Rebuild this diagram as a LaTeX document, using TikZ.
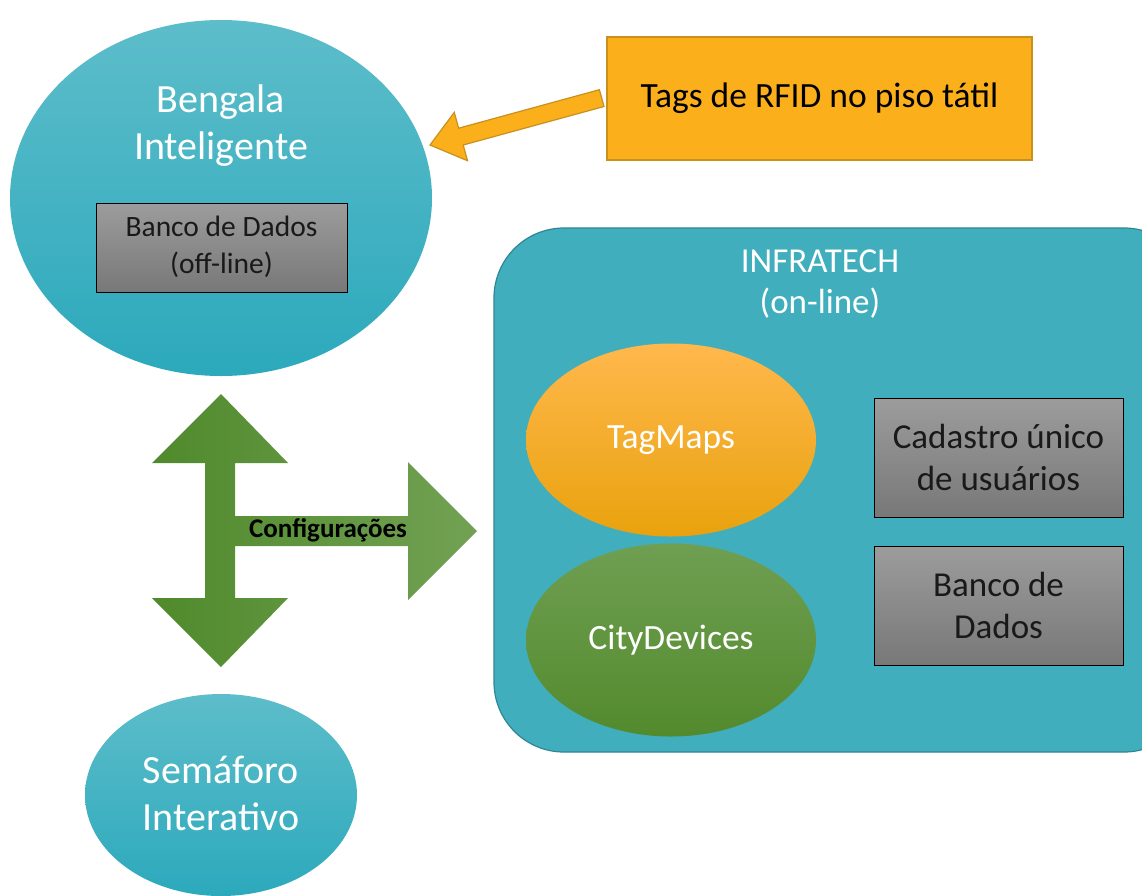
\documentclass[tikz,border=0pt]{standalone}
\usepackage{fontspec}
\setmainfont{Carlito}
\usetikzlibrary{shapes.geometric}
\definecolor{tealtop}{HTML}{5DBDCA}
\definecolor{tealbot}{HTML}{2CA9BC}
\definecolor{infrafill}{HTML}{41AEBD}
\definecolor{infradraw}{HTML}{2F8795}
\definecolor{orgfill}{HTML}{FBB01B}
\definecolor{orgdraw}{HTML}{C8901C}
\definecolor{orgtop}{HTML}{FFB84C}
\definecolor{orgbot}{HTML}{E9A20D}
\definecolor{grntop}{HTML}{6F9F52}
\definecolor{grnbot}{HTML}{538A2D}
\definecolor{grnleft}{HTML}{508A2C}
\definecolor{grnright}{HTML}{72A153}
\definecolor{graytop}{HTML}{9C9C9C}
\definecolor{graybot}{HTML}{787878}
\tikzset{
  tealell/.style={ellipse, top color=tealtop, bottom color=tealbot, draw=none, text=white, align=center, inner sep=0pt},
  graybox/.style={rectangle, top color=graytop, bottom color=graybot, draw=black, line width=1pt, align=center, inner sep=0pt, text=black!90},
  wtext/.style={text=white, align=center},
}
\begin{document}
\begin{tikzpicture}[x=1pt,y=-1pt]
\useasboundingbox (0,0) rectangle (1142,895);
\clip (0,0) rectangle (1142,895);
\fill[white] (0,0) rectangle (1142,895);

% Bengala
\node[tealell, minimum width=422pt, minimum height=356pt] (beng) at (221,198) {};
\node[wtext, font=\fontsize{40}{47}\selectfont] (bengt) at (221,126) {Bengala\\Inteligente};
\node[graybox, minimum width=251pt, minimum height=89pt, font=\fontsize{29.5}{38}\selectfont] (bdoff) at (221.5,247.5) {\raisebox{-2pt}{\begin{tabular}{@{}c@{}}Banco de Dados\\[-0.5pt](off-line)\end{tabular}}};

% Tags box and arrow
\node[rectangle, fill=orgfill, draw=orgdraw, line width=1.2pt, minimum width=425pt, minimum height=123pt, font=\fontsize{35.5}{40}\selectfont, text=black] (tags) at (819.5,98.5) {Tags de RFID no piso tátil};
\coordinate (otip) at (430,145);
\filldraw[fill=orgfill, draw=orgdraw, line width=1.2pt, line join=miter]
  (otip) -- (454.3,112.4) -- (458.6,128.2) -- (599.4,89.7) -- (604.0,106.5) -- (463.2,145.0) -- (467.5,160.7) -- cycle;

% INFRATECH
\node[rectangle, rounded corners=70pt, fill=infrafill, draw=infradraw, line width=1.2pt, minimum width=700pt, minimum height=524pt] (infra) at (844,490) {};
\node[wtext, font=\fontsize{35}{41}\selectfont] (infrat) at (820,284) {INFRATECH\\(on-line)};

\node[ellipse, top color=orgtop, bottom color=orgbot, minimum width=290pt, minimum height=193pt, text=white, font=\fontsize{35.5}{40}\selectfont] (tagmaps) at (671,440) {TagMaps};
\node[ellipse, top color=grntop, bottom color=grnbot, minimum width=290pt, minimum height=193pt, text=white, font=\fontsize{35.5}{40}\selectfont] (city) at (671,640) {CityDevices};

\node[graybox, minimum width=249pt, minimum height=119pt, font=\fontsize{35}{42}\selectfont] (cad) at (998.5,457.5) {Cadastro único\\de usuários};
\node[graybox, minimum width=249pt, minimum height=119pt, font=\fontsize{35}{42}\selectfont] (bd) at (998.5,605.5) {Banco de\\Dados};

% Semaforo
\node[tealell, minimum width=272pt, minimum height=202pt] (sem) at (221,795) {};
\node[wtext, font=\fontsize{40}{47}\selectfont] (semt) at (221,793.5) {Semáforo\\Interativo};

% Green arrows
\shade[left color=grnleft, right color=grnright, shading angle=90]
  (221,394) -- (288,463) -- (235,463) -- (235,516) -- (408,516) -- (408,462) -- (477,531)
  -- (408,600) -- (408,546) -- (235,546) -- (235,598) -- (288,598) -- (221,667)
  -- (152,598) -- (205,598) -- (205,463) -- (152,463) -- cycle;
\node[font=\bfseries\fontsize{27}{30}\selectfont, text=black] (conf) at (328,530) {Configurações};
\end{tikzpicture}
\end{document}
